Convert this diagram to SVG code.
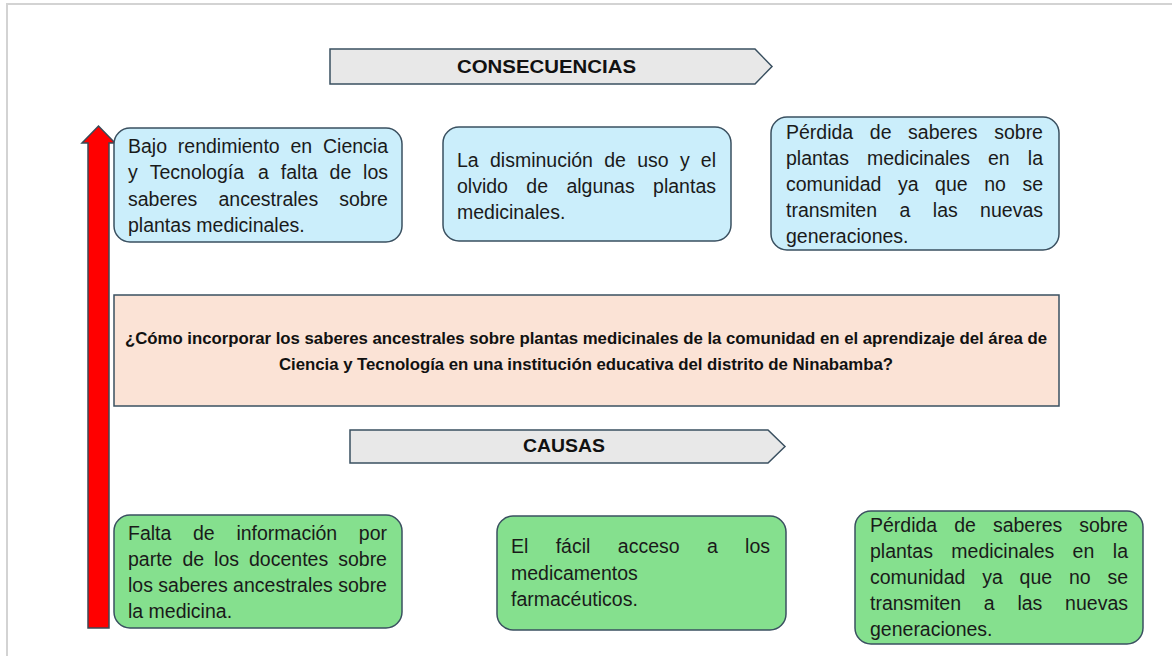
<svg xmlns="http://www.w3.org/2000/svg" width="1172" height="656" viewBox="0 0 1172 656">
<style>
.page{fill:#ffffff;stroke:#d3d3d3;stroke-width:2}
.hdr{fill:#e8e8e8;stroke:#3a5060;stroke-width:1.5}
.hdrt{font-family:"Liberation Sans",Arial,sans-serif;font-weight:bold;font-size:19px;fill:#111111;text-anchor:middle}
.blue{fill:#cbeefb;stroke:#3a5060;stroke-width:1.5}
.green{fill:#85e08e;stroke:#3a5060;stroke-width:1.5}
.prob{fill:#fbe3d6;stroke:#3a5060;stroke-width:1.5}
.t{font-family:"Liberation Sans",Arial,sans-serif;font-size:19.5px;fill:#1a1a1a}
.pt{font-family:"Liberation Sans",Arial,sans-serif;font-weight:bold;font-size:16.8px;fill:#111111;text-anchor:middle}
</style>
<rect class="page" x="7" y="4" width="1200" height="700"/>

<g id="connectors">
<path d="M88,628 L88,143 L82,143 L98.5,126 L115,143 L109,143 L109,628 Z" fill="#ff0000" stroke="#3a4a55" stroke-width="1.5"/>
</g>

<g id="consecuencias">
<path class="hdr" d="M330,49 L755,49 L772,66.5 L755,84 L330,84 Z"/>
<text class="hdrt" x="546.5" y="73" textLength="179" lengthAdjust="spacingAndGlyphs">CONSECUENCIAS</text>
</g>

<g id="causas">
<path class="hdr" d="M350,430 L768,430 L785,446.5 L768,463 L350,463 Z"/>
<text class="hdrt" x="564" y="452" textLength="82" lengthAdjust="spacingAndGlyphs">CAUSAS</text>
</g>

<g id="cons1">
<rect class="blue" x="114" y="128" width="288" height="114" rx="16"/>
<text class="t" y="153"><tspan x="128">Bajo</tspan><tspan x="177.8">rendimiento</tspan><tspan x="290.5">en</tspan><tspan x="323">Ciencia</tspan></text>
<text class="t" y="179"><tspan x="128">y</tspan><tspan x="149.7">Tecnología</tspan><tspan x="258.1">a</tspan><tspan x="280.8">falta</tspan><tspan x="329.6">de</tspan><tspan x="363.1">los</tspan></text>
<text class="t" y="205.5"><tspan x="128">saberes</tspan><tspan x="218.5">ancestrales</tspan><tspan x="339.2">sobre</tspan></text>
<text class="t" y="232" x="128">plantas medicinales.</text>
</g>

<g id="cons2">
<rect class="blue" x="443" y="127" width="288" height="114" rx="16"/>
<text class="t" y="166.5"><tspan x="457">La</tspan><tspan x="490">disminución</tspan><tspan x="604.2">de</tspan><tspan x="637.2">uso</tspan><tspan x="679.9">y</tspan><tspan x="700.8">el</tspan></text>
<text class="t" y="193"><tspan x="457">olvido</tspan><tspan x="526.3">de</tspan><tspan x="566.4">algunas</tspan><tspan x="653.1">plantas</tspan></text>
<text class="t" y="219" x="457">medicinales.</text>
</g>

<g id="cons3">
<rect class="blue" x="771" y="117" width="288" height="133" rx="16"/>
<text class="t" y="139"><tspan x="786">Pérdida</tspan><tspan x="869.8">de</tspan><tspan x="908.1">saberes</tspan><tspan x="994.2">sobre</tspan></text>
<text class="t" y="165"><tspan x="786">plantas</tspan><tspan x="867">medicinales</tspan><tspan x="988">en</tspan><tspan x="1027.8">la</tspan></text>
<text class="t" y="191"><tspan x="786">comunidad</tspan><tspan x="898">ya</tspan><tspan x="935.1">que</tspan><tspan x="984.2">no</tspan><tspan x="1022.4">se</tspan></text>
<text class="t" y="217"><tspan x="786">transmiten</tspan><tspan x="899.5">a</tspan><tspan x="932.8">las</tspan><tspan x="980.1">nuevas</tspan></text>
<text class="t" y="243" x="786">generaciones.</text>
</g>

<g id="problema">
<rect class="prob" x="114" y="295" width="945" height="111"/>
<text class="pt" x="586" y="344" textLength="922" lengthAdjust="spacing">¿Cómo incorporar los saberes ancestrales sobre plantas medicinales de la comunidad en el aprendizaje del área de</text>
<text class="pt" x="586" y="370" textLength="614" lengthAdjust="spacing">Ciencia y Tecnología en una institución educativa del distrito de Ninabamba?</text>
</g>

<g id="causa1">
<rect class="green" x="114" y="515" width="288" height="113" rx="16"/>
<text class="t" y="540"><tspan x="128">Falta</tspan><tspan x="193">de</tspan><tspan x="236.4">información</tspan><tspan x="358.8">por</tspan></text>
<text class="t" y="566"><tspan x="128">parte</tspan><tspan x="182.4">de</tspan><tspan x="214.1">los</tspan><tspan x="249">docentes</tspan><tspan x="338.2">sobre</tspan></text>
<text class="t" y="592"><tspan x="128">los</tspan><tspan x="158.3">saberes</tspan><tspan x="233.1">ancestrales</tspan><tspan x="338.2">sobre</tspan></text>
<text class="t" y="618" x="128">la medicina.</text>
</g>

<g id="causa2">
<rect class="green" x="497" y="516" width="289" height="114" rx="16"/>
<text class="t" y="553"><tspan x="511">El</tspan><tspan x="555.7">fácil</tspan><tspan x="617.8">acceso</tspan><tspan x="707">a</tspan><tspan x="745.1">los</tspan></text>
<text class="t" y="579.5" x="511">medicamentos</text>
<text class="t" y="606" x="511">farmacéuticos.</text>
</g>

<g id="causa3">
<rect class="green" x="855" y="511" width="288" height="133" rx="16"/>
<text class="t" y="532"><tspan x="870">Pérdida</tspan><tspan x="954.2">de</tspan><tspan x="992.9">saberes</tspan><tspan x="1079.2">sobre</tspan></text>
<text class="t" y="558"><tspan x="870">plantas</tspan><tspan x="951.3">medicinales</tspan><tspan x="1072.6">en</tspan><tspan x="1112.8">la</tspan></text>
<text class="t" y="584"><tspan x="870">comunidad</tspan><tspan x="982.2">ya</tspan><tspan x="1019.6">que</tspan><tspan x="1068.9">no</tspan><tspan x="1107.4">se</tspan></text>
<text class="t" y="610"><tspan x="870">transmiten</tspan><tspan x="983.8">a</tspan><tspan x="1017.4">las</tspan><tspan x="1065.1">nuevas</tspan></text>
<text class="t" y="636" x="870">generaciones.</text>
</g>
</svg>
